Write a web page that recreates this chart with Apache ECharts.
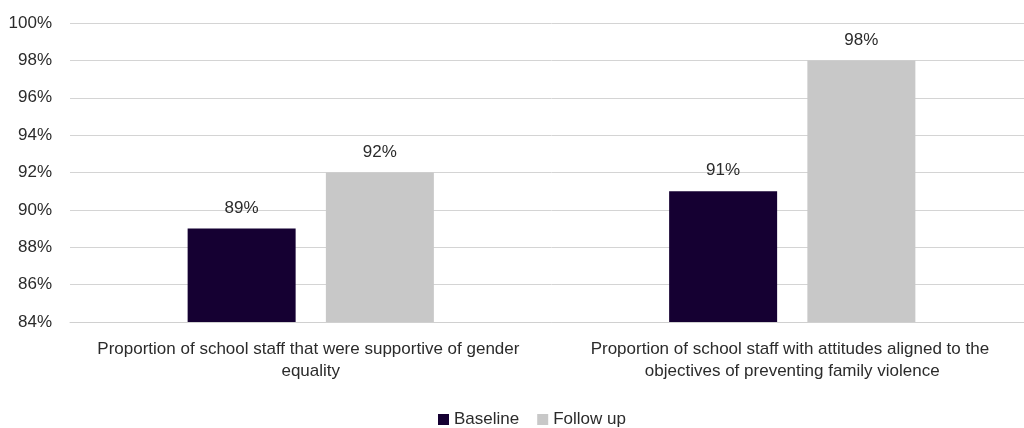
<!DOCTYPE html>
<html>
<head>
<meta charset="utf-8">
<style>
  html, body { margin: 0; padding: 0; background: #ffffff; overflow: hidden; }
  #wrap { width: 1024px; height: 428px; overflow: hidden; }
  /* the plot area runs a little past the right edge of the visible page */
  #chart { width: 1040px; height: 428px; }
</style>
<script src="https://cdn.jsdelivr.net/npm/echarts@6/dist/echarts.min.js"></script>
</head>
<body>
<div id="wrap"><div id="chart"></div></div>
<script>
// Staff survey results: share of school staff, baseline vs follow up
const categories = [
  'Proportion of school staff that were supportive of gender equality',
  'Proportion of school staff with attitudes aligned to the objectives of preventing family violence'
];
const seriesNames = ['Baseline', 'Follow up'];
const baselineValues = [89, 91];
const followUpValues = [92, 98];
const yTicks = { min: 84, max: 100, step: 2 };

const colors = ['#150032', '#c8c8c8'];
const textColor = '#2b2b2b';
const fontFamily = '"Liberation Sans", Arial, sans-serif';
const fontSize = 17;

const chart = echarts.init(document.getElementById('chart'), null, { renderer: 'canvas' });

const labelOpt = {
  show: true,
  position: 'top',
  distance: 12,
  color: textColor,
  fontSize: fontSize,
  fontFamily: fontFamily,
  formatter: p => p.value + '%'
};

chart.setOption({
  animation: false,
  textStyle: { fontFamily: fontFamily },
  grid: { left: 70, right: 7, top: 23, bottom: 106, containLabel: false },
  legend: {
    data: seriesNames,
    top: 406,
    left: 433,
    itemWidth: 11,
    itemHeight: 11,
    itemGap: 18,
    icon: 'rect',
    textStyle: { color: textColor, fontSize: fontSize, fontFamily: fontFamily }
  },
  xAxis: {
    type: 'category',
    data: categories,
    axisLine: { show: true, lineStyle: { color: '#d0d0d0' } },
    axisTick: { show: false },
    axisLabel: {
      color: textColor,
      fontSize: fontSize,
      fontFamily: fontFamily,
      margin: 16,
      width: 445,
      overflow: 'break',
      lineHeight: 22,
      interval: 0
    }
  },
  yAxis: {
    type: 'value',
    min: yTicks.min,
    max: yTicks.max,
    interval: yTicks.step,
    axisLine: { show: false },
    axisTick: { show: false },
    axisLabel: {
      color: textColor,
      fontSize: fontSize,
      fontFamily: fontFamily,
      margin: 18,
      formatter: v => v + '%'
    },
    splitLine: { lineStyle: { color: '#d4d4d4', width: 1 } }
  },
  series: [
    {
      name: seriesNames[0],
      type: 'bar',
      data: baselineValues,
      barWidth: 108,
      barGap: '28%',
      itemStyle: { color: colors[0] },
      label: labelOpt
    },
    {
      name: seriesNames[1],
      type: 'bar',
      data: followUpValues,
      barWidth: 108,
      barGap: '28%',
      itemStyle: { color: colors[1] },
      label: labelOpt
    }
  ]
});
</script>
</body>
</html>
